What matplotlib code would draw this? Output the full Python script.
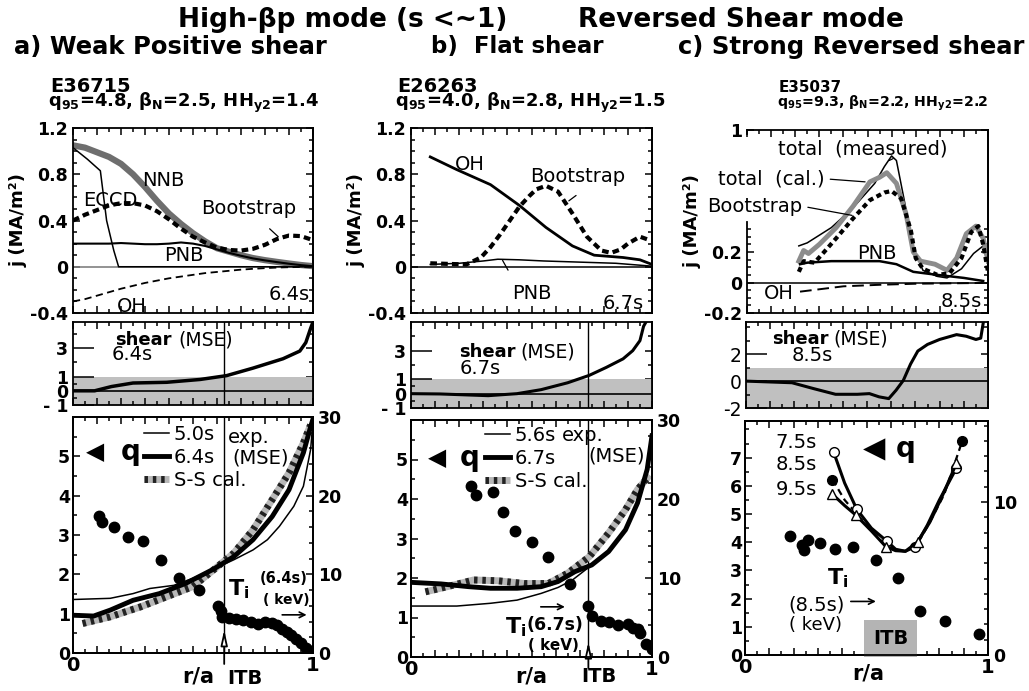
import numpy as np
import matplotlib
matplotlib.use('Agg')
import matplotlib.pyplot as plt
from matplotlib.ticker import MultipleLocator, FixedLocator
from matplotlib.legend_handler import HandlerTuple

plt.rcParams['font.family'] = ['DejaVu Sans']
plt.rcParams['mathtext.fontset'] = 'dejavusans'

W, H = 1029, 691

# ---------------- (a) weak positive shear, E36715 ----------------
ja_r = [0, .05, .1, .15, .2, .25, .3, .35, .4, .45, .5, .55, .6, .65, .7, .75, .8, .85, .9, .95, 1.0]
ja_nnb = [1.05, 1.03, 0.99, 0.95, 0.89, 0.80, 0.69, 0.57, 0.46, 0.37, 0.29, 0.22, 0.16, 0.13, 0.10,
          0.075, 0.057, 0.042, 0.028, 0.015, 0.005]
ja_bs = [0.40, 0.45, 0.49, 0.53, 0.55, 0.55, 0.53, 0.48, 0.41, 0.33, 0.26, 0.21, 0.165, 0.145, 0.14,
         0.155, 0.19, 0.24, 0.27, 0.265, 0.23]
ja_pnb = [0.2, 0.2, 0.2, 0.2, 0.205, 0.2, 0.195, 0.195, 0.2, 0.21, 0.2, 0.18, 0.15, 0.12, 0.095,
          0.072, 0.055, 0.04, 0.026, 0.014, 0.004]
ja_oh = [-0.3, -0.28, -0.25, -0.22, -0.19, -0.165, -0.14, -0.12, -0.10, -0.085, -0.07, -0.055, -0.045,
         -0.035, -0.025, -0.018, -0.012, -0.007, -0.004, -0.002, 0]
ja_eccd_r = [0, 0.06, 0.114, 0.14, 0.17, 0.19, 1.0]
ja_eccd = [1.03, 0.93, 0.83, 0.40, 0.14, 0.0, 0.0]

sa_r = [0, 0.09, 0.16, 0.25, 0.39, 0.53, 0.64, 0.75, 0.875, 0.945, 0.97, 0.99, 1.0]
sa = [0, 0.0, 0.3, 0.55, 0.6, 0.8, 1.07, 1.6, 2.26, 2.8, 3.4, 4.4, 4.85]

qa50_r = [0, 0.155, 0.25, 0.32, 0.42, 0.5, 0.585, 0.67, 0.75, 0.81, 0.86, 0.92, 0.96, 0.99, 1.0]
qa50 = [1.36, 1.39, 1.51, 1.64, 1.72, 1.9, 2.13, 2.37, 2.62, 2.88, 3.22, 3.73, 4.24, 5.17, 5.9]
qa64_r = [0, 0.086, 0.155, 0.25, 0.36, 0.47, 0.585, 0.67, 0.75, 0.83, 0.9, 0.96, 0.99, 1.0]
qa64 = [0.96, 0.94, 1.09, 1.34, 1.51, 1.77, 2.13, 2.45, 2.88, 3.47, 4.15, 5.09, 5.75, 5.95]
qass_r = [0.04, 0.155, 0.28, 0.39, 0.5, 0.585, 0.67, 0.75, 0.83, 0.9, 0.96, 0.99]
qass = [0.75, 0.92, 1.17, 1.43, 1.69, 2.11, 2.54, 3.13, 3.9, 4.58, 5.34, 5.8]
tia_r = [0.107, 0.12, 0.17, 0.23, 0.29, 0.366, 0.44, 0.525, 0.605, 0.615, 0.62, 0.65, 0.68, 0.71, 0.74,
         0.77, 0.80, 0.83, 0.85, 0.87, 0.89, 0.91, 0.93, 0.95, 0.97, 0.99]
tia = [17.4, 16.7, 16.0, 14.7, 14.3, 11.8, 9.5, 8.0, 6.0, 5.4, 4.6, 4.4, 4.3, 4.2, 4.0,
       3.7, 4.0, 3.8, 3.5, 3.1, 2.7, 2.3, 1.8, 1.3, 0.6, 0.25]
itb_a = 0.63

# ---------------- (b) flat shear, E26263 ----------------
jb_oh_r = [0.08, 0.19, 0.33, 0.45, 0.56, 0.67, 0.76, 0.88, 0.95, 1.0]
jb_oh = [0.95, 0.84, 0.71, 0.53, 0.34, 0.18, 0.10, 0.08, 0.06, 0.02]
jb_bs_r = [0.08, 0.15, 0.23, 0.29, 0.33, 0.37, 0.41, 0.45, 0.49, 0.52, 0.56, 0.61, 0.67, 0.73, 0.79,
           0.83, 0.87, 0.90, 0.95, 0.99]
jb_bs = [0.03, 0.025, 0.02, 0.08, 0.17, 0.28, 0.40, 0.52, 0.61, 0.67, 0.70, 0.65, 0.46, 0.26, 0.14,
         0.12, 0.15, 0.20, 0.26, 0.23]
jb_pnb_r = [0.08, 0.2, 0.3, 0.36, 0.45, 0.55, 0.7, 0.85, 1.0]
jb_pnb = [0.02, 0.03, 0.05, 0.065, 0.06, 0.05, 0.04, 0.03, 0.005]

sb_r = [0, 0.12, 0.32, 0.44, 0.54, 0.65, 0.74, 0.81, 0.88, 0.92, 0.95, 0.965, 0.975]
sb = [0, -0.02, -0.14, 0, 0.28, 0.76, 1.28, 1.83, 2.43, 3.0, 3.7, 4.7, 5.0]

qb56_r = [0, 0.19, 0.33, 0.44, 0.54, 0.61, 0.67, 0.75, 0.82, 0.89, 0.94, 0.98, 1.0]
qb56 = [1.29, 1.29, 1.36, 1.44, 1.61, 1.76, 1.95, 2.33, 2.67, 3.22, 3.9, 4.75, 5.6]
qb67_r = [0, 0.125, 0.24, 0.33, 0.44, 0.54, 0.61, 0.68, 0.75, 0.82, 0.89, 0.94, 0.98, 1.0]
qb67 = [1.89, 1.85, 1.78, 1.74, 1.74, 1.78, 1.91, 2.16, 2.33, 2.67, 3.22, 3.9, 4.75, 5.6]
qbss_r = [0.06, 0.15, 0.26, 0.36, 0.47, 0.57, 0.65, 0.74, 0.82, 0.89, 0.94, 0.99]
qbss = [1.65, 1.78, 1.95, 1.93, 1.86, 1.86, 2.12, 2.54, 3.14, 3.73, 4.24, 4.6]
tib_r = [0.25, 0.27, 0.34, 0.38, 0.43, 0.5, 0.57, 0.66, 0.735, 0.75, 0.79, 0.82, 0.86, 0.9, 0.92,
         0.94, 0.95, 0.975, 1.0]
tib = [21.7, 20.5, 20.9, 18.4, 16.0, 14.5, 12.6, 9.3, 6.4, 5.2, 4.6, 4.4, 4.0, 4.2, 3.7,
       3.5, 3.0, 1.7, 1.06]
itb_b = 0.736

# ---------------- (c) strong reversed shear, E35037 ----------------
jc_meas_r = [0.215, 0.25, 0.35, 0.44, 0.53, 0.57, 0.60, 0.62, 0.65, 0.69, 0.73, 0.79, 0.83, 0.89, 0.94,
             0.98, 1.0]
jc_meas = [0.24, 0.26, 0.36, 0.49, 0.65, 0.76, 0.83, 0.80, 0.56, 0.23, 0.08, 0.04, 0.03, 0.09, 0.19,
           0.24, 0.12]
jc_cal_r = [0.215, 0.235, 0.255, 0.30, 0.37, 0.44, 0.51, 0.55, 0.58, 0.62, 0.66, 0.69, 0.72, 0.78,
            0.83, 0.87, 0.91, 0.95, 0.98, 1.0]
jc_cal = [0.14, 0.21, 0.19, 0.25, 0.36, 0.50, 0.66, 0.69, 0.72, 0.65, 0.45, 0.20, 0.14, 0.12,
          0.08, 0.16, 0.32, 0.37, 0.29, 0.14]
jc_bs_r = [0.215, 0.235, 0.28, 0.32, 0.37, 0.44, 0.51, 0.57, 0.60, 0.64, 0.68, 0.70, 0.73, 0.79,
           0.84, 0.89, 0.93, 0.96, 0.98, 1.0]
jc_bs = [0.07, 0.14, 0.13, 0.20, 0.29, 0.42, 0.54, 0.59, 0.60, 0.55, 0.34, 0.16, 0.09, 0.05,
         0.06, 0.16, 0.33, 0.37, 0.25, 0.07]
jc_pnb_r = [0.22, 0.25, 0.35, 0.55, 0.62, 0.69, 0.79, 0.9, 0.98]
jc_pnb = [0.12, 0.13, 0.14, 0.14, 0.12, 0.07, 0.05, 0.03, 0.01]
jc_oh_r = [0.22, 0.4, 0.55, 0.7, 0.98]
jc_oh = [-0.06, -0.025, -0.015, -0.008, -0.003]

sc_r = [0, 0.19, 0.28, 0.37, 0.46, 0.51, 0.55, 0.59, 0.62, 0.65, 0.68, 0.71, 0.75, 0.80, 0.87, 0.91,
        0.95, 0.97, 0.98]
sc = [0, -0.12, -0.56, -0.98, -0.98, -0.93, -1.17, -1.3, -0.68, 0.05, 1.27, 2.24, 2.73, 3.1, 3.46, 3.34,
      3.1, 3.2, 4.3]

qc75_r = [0.365, 0.41, 0.46, 0.52, 0.585, 0.62, 0.66, 0.70, 0.75, 0.80, 0.87]
qc75 = [7.19, 6.1, 5.17, 4.5, 4.03, 3.75, 3.68, 3.84, 4.6, 5.5, 6.63]
qc85_r = [0.36, 0.41, 0.46, 0.52, 0.58, 0.62, 0.66, 0.71, 0.76, 0.82, 0.894]
qc85 = [6.22, 5.5, 5.0, 4.4, 3.9, 3.7, 3.68, 3.95, 4.7, 5.7, 7.59]
qc95_r = [0.36, 0.41, 0.455, 0.52, 0.58, 0.62, 0.66, 0.71, 0.76, 0.81, 0.87]
qc95 = [5.70, 5.3, 4.97, 4.4, 3.84, 3.7, 3.68, 4.01, 4.7, 5.6, 6.8]
tic_r = [0.186, 0.234, 0.243, 0.26, 0.31, 0.37, 0.444, 0.54, 0.63, 0.72, 0.825, 0.963]
tic = [7.8, 7.2, 6.85, 7.5, 7.3, 6.96, 7.07, 6.2, 5.04, 2.87, 2.2, 1.37]

fig = plt.figure(figsize=(W / 100, H / 100), dpi=100)


def px_axes(l, t, r, b):
    return fig.add_axes([l / W, 1 - b / H, (r - l) / W, (b - t) / H])


def style(ax, yticks, ylabels, yminor, major_len=5):
    ax.set_xlim(0, 1)
    ax.xaxis.set_major_locator(MultipleLocator(0.1))
    ax.xaxis.set_minor_locator(MultipleLocator(0.05))
    ax.set_yticks(yticks, ylabels, fontweight='bold', fontsize=12.5)
    ax.yaxis.set_minor_locator(yminor)
    ax.tick_params(which='both', direction='in', top=True, right=False, labelbottom=False, width=1.1)
    ax.tick_params(axis='x', which='major', length=5)
    ax.tick_params(axis='y', which='major', length=major_len)
    ax.tick_params(which='minor', length=3)
    for sp in ax.spines.values():
        sp.set_linewidth(1.3)
    sec = ax.secondary_yaxis('right')
    sec.yaxis.set_major_locator(FixedLocator(yticks))
    sec.yaxis.set_minor_locator(yminor)
    sec.tick_params(which='both', direction='in', labelright=False, width=1.1)
    sec.tick_params(which='major', length=5)
    sec.tick_params(which='minor', length=3)
    sec.spines['right'].set_linewidth(1.3)
    return sec


def q_style(ax, tw, qmax, qticks, timax, titicks, timinor):
    ax.set_xlim(0, 1)
    ax.set_ylim(0, qmax)
    ax.xaxis.set_major_locator(MultipleLocator(0.1))
    ax.xaxis.set_minor_locator(MultipleLocator(0.05))
    ax.set_yticks(qticks, [str(v) for v in qticks], fontweight='bold', fontsize=12.5)
    ax.yaxis.set_minor_locator(MultipleLocator(0.5))
    ax.set_xticks([0, .1, .2, .3, .4, .5, .6, .7, .8, .9, 1],
                  ['0', '', '', '', '', '', '', '', '', '', '1'], fontweight='bold', fontsize=14)
    ax.tick_params(which='both', direction='in', top=True, right=False, width=1.1)
    ax.tick_params(which='major', length=5, pad=2)
    ax.tick_params(which='minor', length=3)
    tw.set_ylim(0, timax)
    tw.set_yticks(titicks, [str(v) for v in titicks], fontweight='bold', fontsize=12.5)
    tw.yaxis.set_minor_locator(MultipleLocator(timinor))
    tw.tick_params(which='both', direction='in', width=1.1)
    tw.tick_params(which='major', length=5)
    tw.tick_params(which='minor', length=3)
    for sp in list(ax.spines.values()) + list(tw.spines.values()):
        sp.set_linewidth(1.3)


def hatched(ax, x, y, **kw):
    a, = ax.plot(x, y, color='#b8b8b8', lw=5, solid_capstyle='butt', **kw)
    b, = ax.plot(x, y, color='#222222', lw=5, dashes=(0.5, 0.7), dash_capstyle='butt', **kw)
    return (a, b)


def shear_label(ax, x, y, xm):
    ax.text(x, y, 'shear', ha='left', va='center', fontsize=13, fontweight='bold')
    ax.text(xm, y, '(MSE)', ha='left', va='center', fontsize=13.5)


# ---------------- titles ----------------
fig.text(343 / W, 1 - 20 / H, 'High-βp mode (s <~1)', ha='center', va='center', fontsize=19, fontweight='bold')
fig.text(741 / W, 1 - 20 / H, 'Reversed Shear mode', ha='center', va='center', fontsize=19, fontweight='bold')
fig.text(170 / W, 1 - 47 / H, 'a) Weak Positive shear', ha='center', va='center', fontsize=17.5, fontweight='bold')
fig.text(517 / W, 1 - 47 / H, 'b)  Flat shear', ha='center', va='center', fontsize=16.5, fontweight='bold')
fig.text(851 / W, 1 - 47 / H, 'c) Strong Reversed shear', ha='center', va='center', fontsize=17.5, fontweight='bold')
for x0, shot, q95, bn, hh, fs in [(50, 'E36715', '4.8', '2.5', '1.4', 13), (397, 'E26263', '4.0', '2.8', '1.5', 13),
                                  (779, 'E35037', '9.3', '2.2', '2.2', 10.2)]:
    fig.text(x0 / W, 1 - 87 / H, shot, ha='left', va='center', fontsize=fs * 1.07, fontweight='bold')
    fig.text((x0 - 2) / W, 1 - 107 / H,
             r'$\mathbf{q_{95}}$=' + q95 + r', $\mathbf{\beta_N}$=' + bn + r', $\mathbf{HH_{y2}}$=' + hh,
             ha='left', va='baseline', fontsize=fs, fontweight='bold')

# ================= column (a) =================
ax = px_axes(73, 128, 313, 313)
ax.set_ylim(-0.4, 1.2)
style(ax, [-0.4, 0, 0.4, 0.8, 1.2], ['-0.4', '0', '0.4', '0.8', '1.2'], MultipleLocator(0.1))
ax.axhline(0, color='#808080', lw=1.2)
ax.plot(ja_r, ja_nnb, color='#6e6e6e', lw=4.5)
ax.plot(ja_eccd_r, ja_eccd, color='k', lw=1.1)
ax.plot(ja_r, ja_pnb, color='k', lw=1.5)
ax.plot(ja_r, ja_bs, color='k', lw=3, dashes=(1.6, 1.0))
ax.plot(ja_r, ja_oh, color='k', lw=1.3, dashes=(4, 2.5))
ax.text(0.375, 0.745, 'NNB', ha='center', va='center', fontsize=14)
ax.text(0.154, 0.57, 'ECCD', ha='center', va='center', fontsize=14)
ax.annotate('Bootstrap', xy=(0.855, 0.26), xytext=(0.73, 0.50), ha='center', va='center', fontsize=14,
            arrowprops=dict(arrowstyle='-', lw=0.9, shrinkA=8, shrinkB=0))
ax.text(0.46, 0.10, 'PNB', ha='center', va='center', fontsize=14)
ax.text(0.245, -0.34, 'OH', ha='center', va='center', fontsize=14)
ax.text(0.985, -0.24, '6.4s', ha='right', va='center', fontsize=14)
ax.set_ylabel('j (MA/m²)', fontsize=13, fontweight='bold', labelpad=2)

ax = px_axes(73, 322, 313, 405)
ax.set_ylim(-1, 4.85)
style(ax, [-1, 0, 1, 3], ['- 1', '0', '1', '3'], FixedLocator([-0.5, 0.5, 2, 4]), major_len=15)
ax.axhspan(-1, 1, color='#c0c0c0', lw=0)
ax.axhline(0, color='k', lw=1.2)
ax.axvline(itb_a, color='k', lw=1)
ax.plot(sa_r, sa, color='k', lw=2.5)
shear_label(ax, 0.175, 3.6, 0.44)
ax.text(0.16, 2.55, '6.4s', ha='left', va='center', fontsize=14)

ax = px_axes(73, 417, 313, 653)
tw = ax.twinx()
q_style(ax, tw, 6.0, [0, 1, 2, 3, 4, 5], 30, [0, 10, 20, 30], 2)
ax.axvline(itb_a, color='k', lw=1)
h1, = ax.plot(qa50_r, qa50, color='k', lw=1.1)
h3 = hatched(ax, qass_r, qass)
h2, = ax.plot(qa64_r, qa64, color='k', lw=3.5)
tw.plot(tia_r, tia, 'o', color='k', ms=7.5)
ax.legend([h1, h2, h3], ['5.0s', '6.4s', 'S-S cal.'], loc='upper left', bbox_to_anchor=(0.295, 0.965),
          frameon=False, fontsize=14, handlelength=1.3, handletextpad=0.25, labelspacing=0.2, borderpad=0,
          borderaxespad=0, handler_map={tuple: HandlerTuple(ndivide=1)})
ax.text(0.645, 5.47, 'exp.', ha='left', va='center', fontsize=14)
ax.text(0.665, 4.96, '(MSE)', ha='left', va='center', fontsize=14)
ax.text(0.092, 5.12, '◀', ha='center', va='center', fontsize=17)
ax.text(0.24, 5.12, 'q', ha='center', va='center', fontsize=20, fontweight='bold')
ax.text(0.645, 1.62, r'$\mathbf{T_i}$', ha='left', va='center', fontsize=16)
ax.text(0.78, 1.9, '(6.4s)', ha='left', va='center', fontsize=10.5, fontweight='bold')
ax.text(0.79, 1.34, '( keV)', ha='left', va='center', fontsize=10, fontweight='bold')
ax.annotate('', xy=(0.985, 0.97), xytext=(0.86, 0.97), arrowprops=dict(arrowstyle='->', lw=1.2))
ax.annotate('', xy=(itb_a, 0.66), xytext=(itb_a, -0.35), annotation_clip=False,
            arrowprops=dict(arrowstyle='-|>,head_length=0.9,head_width=0.2', lw=1.3, color='k', fc='white'))
ax.text(0.715, -0.66, 'ITB', ha='center', va='center', fontsize=14, fontweight='bold')
ax.text(0.52, -0.6, 'r/a', ha='center', va='center', fontsize=15, fontweight='bold')

# ================= column (b) =================
ax = px_axes(411, 128, 652, 313)
ax.set_ylim(-0.4, 1.2)
style(ax, [-0.4, 0, 0.4, 0.8, 1.2], ['-0.4', '0', '0.4', '0.8', '1.2'], MultipleLocator(0.1))
ax.axhline(0, color='k', lw=1.1)
ax.plot(jb_pnb_r, jb_pnb, color='k', lw=1.1)
ax.plot(jb_oh_r, jb_oh, color='k', lw=2)
ax.plot(jb_bs_r, jb_bs, color='k', lw=3, dashes=(1.6, 1.0))
ax.text(0.245, 0.88, 'OH', ha='center', va='center', fontsize=14)
ax.annotate('Bootstrap', xy=(0.655, 0.57), xytext=(0.69, 0.78), ha='center', va='center', fontsize=14,
            arrowprops=dict(arrowstyle='-', lw=0.9, shrinkA=8, shrinkB=0, relpos=(0.62, 0)))
ax.annotate('PNB', xy=(0.38, 0.055), xytext=(0.50, -0.23), ha='center', va='center', fontsize=14,
            arrowprops=dict(arrowstyle='-', lw=0.9, shrinkA=9, shrinkB=0, relpos=(0.1, 1)))
ax.text(0.965, -0.32, '6.7s', ha='right', va='center', fontsize=14)
ax.set_ylabel('j (MA/m²)', fontsize=13, fontweight='bold', labelpad=2)

ax = px_axes(411, 322, 652, 408)
ax.set_ylim(-0.85, 5.0)
style(ax, [-1, 0, 1, 3], ['- 1', '0', '1', '3'], FixedLocator([-0.5, 0.5, 2, 4]), major_len=15)
ax.axhspan(-1, 1, color='#c0c0c0', lw=0)
ax.axhline(0, color='k', lw=1.2)
ax.axvline(itb_b, color='k', lw=1)
ax.plot(sb_r, sb, color='k', lw=2.2)
shear_label(ax, 0.20, 2.9, 0.455)
ax.text(0.20, 1.75, '6.7s', ha='left', va='center', fontsize=14)

ax = px_axes(411, 420, 652, 657)
tw = ax.twinx()
q_style(ax, tw, 6.0, [0, 1, 2, 3, 4, 5], 30, [0, 10, 20, 30], 2)
ax.axvline(itb_b, color='k', lw=1)
h1, = ax.plot(qb56_r, qb56, color='k', lw=1.1)
h3 = hatched(ax, qbss_r, qbss)
h2, = ax.plot(qb67_r, qb67, color='k', lw=3.5)
tw.plot(tib_r, tib, 'o', color='k', ms=7.5)
ax.legend([h1, h2, h3], ['5.6s', '6.7s', 'S-S cal.'], loc='upper left', bbox_to_anchor=(0.305, 0.975),
          frameon=False, fontsize=14, handlelength=1.3, handletextpad=0.25, labelspacing=0.2, borderpad=0,
          borderaxespad=0, handler_map={tuple: HandlerTuple(ndivide=1)})
ax.text(0.625, 5.6, 'exp.', ha='left', va='center', fontsize=14)
ax.text(0.735, 5.1, '(MSE)', ha='left', va='center', fontsize=14)
ax.text(0.107, 5.04, '◀', ha='center', va='center', fontsize=17)
ax.text(0.245, 5.04, 'q', ha='center', va='center', fontsize=20, fontweight='bold')
ax.annotate('', xy=(0.65, 1.27), xytext=(0.527, 1.27), arrowprops=dict(arrowstyle='->', lw=1.2))
ax.text(0.39, 0.76, r'$\mathbf{T_i}$', ha='left', va='center', fontsize=16)
ax.text(0.48, 0.80, '(6.7s)', ha='left', va='center', fontsize=12.5, fontweight='bold')
ax.text(0.485, 0.30, '( keV)', ha='left', va='center', fontsize=11, fontweight='bold')
ax.annotate('', xy=(itb_b, 0.45), xytext=(itb_b, -0.35), annotation_clip=False,
            arrowprops=dict(arrowstyle='-|>,head_length=0.9,head_width=0.2', lw=1.3, color='k', fc='white'))
ax.text(0.78, -0.5, 'ITB', ha='center', va='center', fontsize=14, fontweight='bold')
ax.text(0.50, -0.5, 'r/a', ha='center', va='center', fontsize=15, fontweight='bold')

# ================= column (c) =================
ax = px_axes(747, 130, 988, 313)
ax.set_ylim(-0.2, 1.0)
style(ax, [-0.2, 0, 0.2, 1.0], ['-0.2', '0', '0.2', '1'],
      FixedLocator([-0.15, -0.1, -0.05, 0.05, 0.1, 0.15, 0.25, 0.3, 0.35]))
ax.spines['left'].set_bounds(-0.2, 0.4)
ax.plot([0, 0], [0.975, 1.0], color='k', lw=1.3, clip_on=False)
ax.axhline(0, color='k', lw=1.1)
ax.plot(jc_meas_r, jc_meas, color='k', lw=1.1)
ax.plot(jc_cal_r, jc_cal, color='#8c8c8c', lw=3.5)
ax.plot(jc_bs_r, jc_bs, color='k', lw=3, dashes=(1.2, 0.9))
ax.plot(jc_pnb_r, jc_pnb, color='k', lw=1.8)
ax.plot(jc_oh_r, jc_oh, color='k', lw=1.4, dashes=(6, 3))
ax.annotate('total  (measured)', xy=(0.59, 0.80), xytext=(0.48, 0.875), ha='center', va='center', fontsize=14,
            arrowprops=dict(arrowstyle='-', lw=0.9, shrinkA=4, shrinkB=0, relpos=(0.68, 0)))
ax.annotate('total  (cal.)', xy=(0.49, 0.66), xytext=(-0.12, 0.68), ha='left', va='center', fontsize=14,
            arrowprops=dict(arrowstyle='-', lw=0.9, shrinkA=2, shrinkB=0, relpos=(1, 0.5)))
ax.annotate('Bootstrap', xy=(0.436, 0.44), xytext=(-0.165, 0.50), ha='left', va='center', fontsize=14,
            arrowprops=dict(arrowstyle='-', lw=0.9, shrinkA=2, shrinkB=0, relpos=(1, 0.5)))
ax.text(0.54, 0.19, 'PNB', ha='center', va='center', fontsize=14)
ax.text(0.13, -0.07, 'OH', ha='center', va='center', fontsize=14)
ax.text(0.975, -0.125, '8.5s', ha='right', va='center', fontsize=14)
ax.set_ylabel('j (MA/m²)', fontsize=13, fontweight='bold', labelpad=2)

ax = px_axes(746, 322, 988, 408)
ax.set_ylim(-2, 4.4)
style(ax, [-2, 0, 2], ['-2', '0', '2'], FixedLocator([-1, 1, 3, 4]), major_len=15)
for t in ax.get_yticklabels():
    t.set_fontweight('normal')
    t.set_fontsize(13.5)
ax.axhspan(-2, 1, color='#c0c0c0', lw=0)
ax.axhline(0, color='k', lw=1.2)
ax.plot(sc_r, sc, color='k', lw=2.2)
shear_label(ax, 0.107, 3.15, 0.36)
ax.text(0.19, 1.9, '8.5s', ha='left', va='center', fontsize=14)

ax = px_axes(745, 421, 988, 655)
tw = ax.twinx()
q_style(ax, tw, 8.3, [0, 1, 2, 3, 4, 5, 6, 7], 15.3, [0, 10], 1)
ax.plot(qc85_r, qc85, color='k', lw=1.6, dashes=(3, 2), marker='o', ms=7, markevery=[0, 10])
ax.plot(qc75_r, qc75, color='k', lw=2.2, marker='o', ms=7, mfc='white', markevery=[0, 2, 4, 7, 10])
ax.plot(qc95_r, qc95, color='k', lw=2.2, marker='^', ms=7, mfc='white', markevery=[0, 2, 4, 7, 10])
tw.errorbar(tic_r, tic, xerr=0.012, fmt='o', color='k', ms=7.5, elinewidth=1.6, capsize=0)
ax.text(0.295, 7.54, '7.5s', ha='right', va='center', fontsize=14)
ax.text(0.295, 6.76, '8.5s', ha='right', va='center', fontsize=14)
ax.text(0.295, 5.87, '9.5s', ha='right', va='center', fontsize=14)
ax.text(0.53, 7.3, '◀', ha='center', va='center', fontsize=21)
ax.text(0.66, 7.3, 'q', ha='center', va='center', fontsize=20, fontweight='bold')
ax.text(0.336, 2.74, r'$\mathbf{T_i}$', ha='left', va='center', fontsize=16)
ax.text(0.295, 1.78, '(8.5s)', ha='center', va='center', fontsize=14)
ax.text(0.29, 1.07, '( keV)', ha='center', va='center', fontsize=13)
ax.annotate('', xy=(0.55, 1.9), xytext=(0.424, 1.9), arrowprops=dict(arrowstyle='->', lw=1.2))
ax.text(0.60, 0.59, 'ITB', ha='center', va='center', fontsize=14, fontweight='bold',
        bbox=dict(boxstyle='square,pad=0.45', fc='#b4b4b4', ec='none'))
ax.text(0.506, -0.64, 'r/a', ha='center', va='center', fontsize=15, fontweight='bold')

fig.savefig('out.png', dpi=100)
